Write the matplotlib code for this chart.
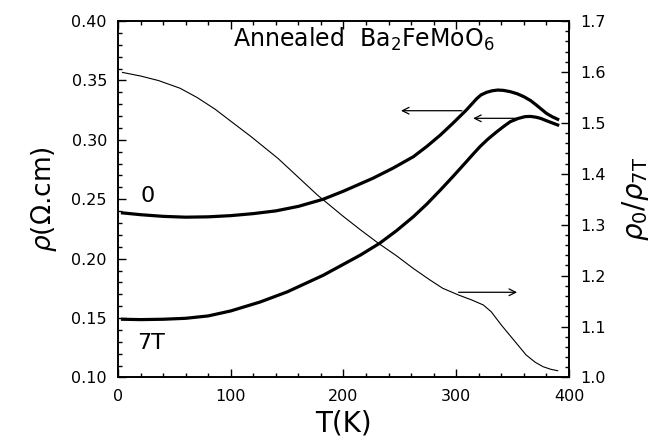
import matplotlib
matplotlib.use('Agg')
from matplotlib import pyplot
from matplotlib.ticker import MultipleLocator

# Resistivity in zero field and in 7 T (left axis, ohm.cm)
temp_0  = [ 4, 20, 40, 60, 80, 100, 120, 140, 160, 182, 200, 226, 244, 262, 274, 286, 297, 309, 314,
            318, 322, 327, 332, 337, 342, 348, 354, 360, 366, 371, 380, 385, 390 ]
rho_0   = [ 0.2385, 0.2370, 0.2356, 0.2349, 0.2352, 0.2362, 0.2379, 0.2402, 0.2440, 0.2500, 0.2568, 0.2676,
            0.2762, 0.2858, 0.2945, 0.3041, 0.3139, 0.3251, 0.3303, 0.3345, 0.3378, 0.3400, 0.3413, 0.3419,
            0.3416, 0.3405, 0.3388, 0.3363, 0.3330, 0.3293, 0.3223, 0.3195, 0.3173 ]

temp_7t = [ 4, 20, 40, 60, 80, 100, 126, 150, 182, 215, 232, 247, 262, 274, 286, 297, 309, 315, 321,
            328, 336, 342, 348, 355, 361, 366, 371, 375, 380, 385, 390 ]
rho_7t  = [ 0.1490, 0.1487, 0.1490, 0.1498, 0.1518, 0.1560, 0.1635, 0.1720, 0.1860, 0.2030, 0.2129,
            0.2235, 0.2353, 0.2460, 0.2578, 0.2690, 0.2816, 0.2880, 0.2942, 0.3005, 0.3068, 0.3112,
            0.3153, 0.3180, 0.3195, 0.3197, 0.3190, 0.3180, 0.3161, 0.3143, 0.3125 ]

# rho_0 / rho_7T (right axis)
temp_ratio = [ 4, 20, 36, 55, 70, 86, 99, 118, 142, 160, 177, 200, 215, 231, 247, 262, 277, 288, 302,
               314, 324, 331, 340, 351, 362, 370, 377, 384, 390 ]
ratio      = [ 1.599, 1.592, 1.583, 1.568, 1.550, 1.527, 1.505, 1.473, 1.430, 1.393, 1.358, 1.316,
               1.290, 1.2635, 1.239, 1.214, 1.191, 1.1752, 1.162, 1.152, 1.1424, 1.1292, 1.103, 1.0736,
               1.0442, 1.030, 1.0212, 1.016, 1.0133 ]

# Arrows pointing each curve to its axis: (T start, T end, value)
arrow_rho   = [ (305, 251, 0.3245), (357, 315, 0.3181) ]
arrow_ratio = [ (302, 354, 1.1673) ]


pyplot.rcParams['font.family'] = 'DejaVu Sans'
pyplot.rcParams['mathtext.fontset'] = 'dejavusans'

fig = pyplot.figure(figsize = [ 6.57, 4.43 ], dpi = 100)
ax  = fig.add_axes([ 0.1796, 0.1479, 0.6864, 0.8047 ])
ax2 = ax.twinx()

ax.plot(temp_0,  rho_0,  color = 'black', linewidth = 2.3, solid_joinstyle = 'round')
ax.plot(temp_7t, rho_7t, color = 'black', linewidth = 2.3, solid_joinstyle = 'round')
ax2.plot(temp_ratio, ratio, color = 'black', linewidth = 0.8)

ax.set_xlim([ 0, 400 ])
ax.set_ylim([ 0.10, 0.40 ])
ax2.set_ylim([ 1.0, 1.7 ])

ax.xaxis.set_major_locator(MultipleLocator(100))
ax.xaxis.set_minor_locator(MultipleLocator(20))
ax.yaxis.set_major_locator(MultipleLocator(0.05))
ax.yaxis.set_minor_locator(MultipleLocator(0.01))
ax2.yaxis.set_major_locator(MultipleLocator(0.1))
ax2.yaxis.set_minor_locator(MultipleLocator(0.02))

ax.yaxis.set_major_formatter(lambda v, p: f'{v:.2f}')
ax2.yaxis.set_major_formatter(lambda v, p: f'{v:.1f}')

ax.tick_params(which = 'both', direction = 'in', top = True, right = False,
               width = 1, labelsize = 11.5, pad = 8, color = 'black')
ax.tick_params(which = 'major', length = 5.5)
ax.tick_params(which = 'minor', length = 3)
ax2.tick_params(which = 'both', direction = 'in', width = 1, labelsize = 11.5, pad = 8)
ax2.tick_params(which = 'major', length = 5.5)
ax2.tick_params(which = 'minor', length = 3)

for a in (ax, ax2):
    for spine in a.spines.values():
        spine.set_linewidth(1.2)

ax.set_xlabel('T(K)', fontsize = 20, labelpad = 4)
ax.set_ylabel(r'$\rho$($\Omega$.cm)', fontsize = 19, labelpad = 9)
ax2.set_ylabel(r'$\rho_0/\rho_{\mathrm{7T}}$', fontsize = 20, labelpad = 10)

# Curve labels and sample name
ax.text(102, 0.3779, r'Annealed  Ba$_2$FeMoO$_6$', fontsize = 17, va = 'baseline', ha = 'left')
ax.text(26, 0.2527, '0',  fontsize = 16, va = 'center', ha = 'center')
ax.text(29, 0.129,  '7T', fontsize = 16, va = 'center', ha = 'center')

arrow_style = dict(arrowstyle = '->', color = 'black', linewidth = 0.9,
                   shrinkA = 0, shrinkB = 0, mutation_scale = 12)
for start, end, value in arrow_rho:
    ax.annotate('', xy = (end, value), xytext = (start, value), arrowprops = arrow_style)
for start, end, value in arrow_ratio:
    ax2.annotate('', xy = (end, value), xytext = (start, value), arrowprops = arrow_style)

fig.savefig('out.png')
